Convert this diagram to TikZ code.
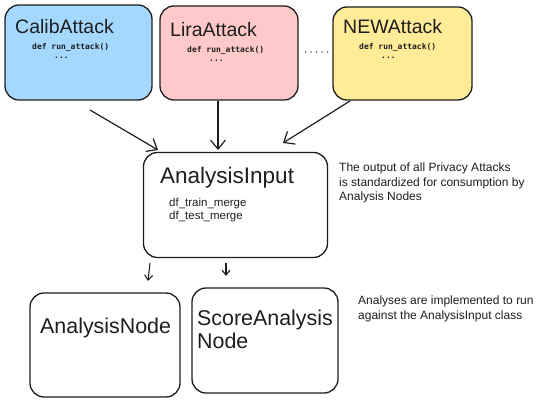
\documentclass[tikz,border=0pt]{standalone}
\usepackage{fontspec}
\setmainfont{Liberation Sans}
\newfontfamily\codefont{DejaVu Sans Mono}
\usetikzlibrary{arrows.meta,calc}
\definecolor{ink}{HTML}{1E1E1E}
\definecolor{fblue}{HTML}{A5D8FF}
\definecolor{fpink}{HTML}{FFC9C9}
\definecolor{fyellow}{HTML}{FFEC99}
\tikzset{
  box/.style={draw=ink, line width=1.3pt, rounded corners=14pt, rectangle, inner sep=0pt},
  title/.style={anchor=west, inner sep=0pt, text=ink},
  code/.style={anchor=west, inner sep=0pt, text=ink, font=\codefont\bfseries\fontsize{8}{9}\selectfont},
  note/.style={anchor=north west, inner sep=0pt, text=ink, align=left, font=\fontsize{12}{14.5}\selectfont},
  conn/.style={draw=ink, line width=1.2pt, -{Straight Barb[length=9pt,width=15pt,line width=1.2pt]}},
  smallconn/.style={draw=ink, line width=1.1pt, -{Straight Barb[length=5pt,width=8pt,line width=1.1pt]}},
}
\begin{document}
\begin{tikzpicture}[x=1pt,y=-1pt]
\useasboundingbox (0,0) rectangle (547,403);
% attack boxes
\node[box, fill=fblue, minimum width=147pt, minimum height=95pt] (calib) at (78.5,52.5) {};
\node[box, fill=fpink, minimum width=138pt, minimum height=94pt] (lira) at (229,53) {};
\node[box, fill=fyellow, minimum width=139pt, minimum height=93pt] (new) at (402.5,53.5) {};
\node[title, font=\fontsize{19.5}{22}\selectfont] (calibt) at (15,27) {CalibAttack};
\node[code] (calibc) at (32,47) {def run\_attack()};
\node[code] (calibd) at (54,58) {...};
\node[title, font=\fontsize{19.5}{22}\selectfont] (lirat) at (170,30) {LiraAttack};
\node[code] (lirac) at (187,50) {def run\_attack()};
\node[code] (lirad) at (209,61) {...};
\node[title, font=\fontsize{19.5}{22}\selectfont] (newt) at (343,27) {NEWAttack};
\node[code] (newc) at (359,47) {def run\_attack()};
\node[code] (newd) at (381,58) {...};
\draw[ink, line width=1.4pt, line cap=round, dash pattern=on 0pt off 5.5pt] ([xshift=7pt]lira.east |- 0,52) -- ([xshift=-1pt]new.west |- 0,52);
% analysis input
\node[box, minimum width=184pt, minimum height=105pt] (input) at (235.5,205) {};
\node[title, font=\fontsize{22.5}{25}\selectfont] (inputt) at (160,178) {AnalysisInput};
\node[title, font=\fontsize{11.5}{13.5}\selectfont] (inputa) at (169,204) {df\_train\_merge};
\node[title, font=\fontsize{11.5}{13.5}\selectfont] (inputb) at (169,217) {df\_test\_merge};
\node[note] (note1) at (339,163) {The output of all Privacy Attacks\\is standardized for consumption by\\Analysis Nodes};
% arrows from attacks
\coordinate (ca) at (90,110);
\coordinate (cb) at (158,150);
\coordinate (la) at (218,101);
\coordinate (lb) at (218,150);
\coordinate (na) at (350,101);
\coordinate (nb) at (283,143);
\draw[conn] (ca) -- (cb);
\draw[conn] (la) -- (lb);
\draw[conn] (na) -- (nb);
% analysis nodes
\node[box, minimum width=150pt, minimum height=104pt] (anode) at (105,345) {};
\node[box, minimum width=146pt, minimum height=105pt] (snode) at (265,340.5) {};
\node[title, font=\fontsize{21.4}{24}\selectfont] (anodet) at (40,328) {AnalysisNode};
\node[title, font=\fontsize{21.4}{23}\selectfont, align=left, anchor=north west] (snodet) at (197,310) {ScoreAnalysis\\Node};
\node[note] (note2) at (358,296) {Analyses are implemented to run\\against the AnalysisInput class};
% small arrows
\coordinate (sa) at (150,263);
\coordinate (sb) at (148,281);
\coordinate (ta) at (226,263);
\coordinate (tb) at (226,276);
\draw[smallconn] (sa) -- (sb);
\draw[smallconn] (ta) -- (tb);
\end{tikzpicture}
\end{document}
